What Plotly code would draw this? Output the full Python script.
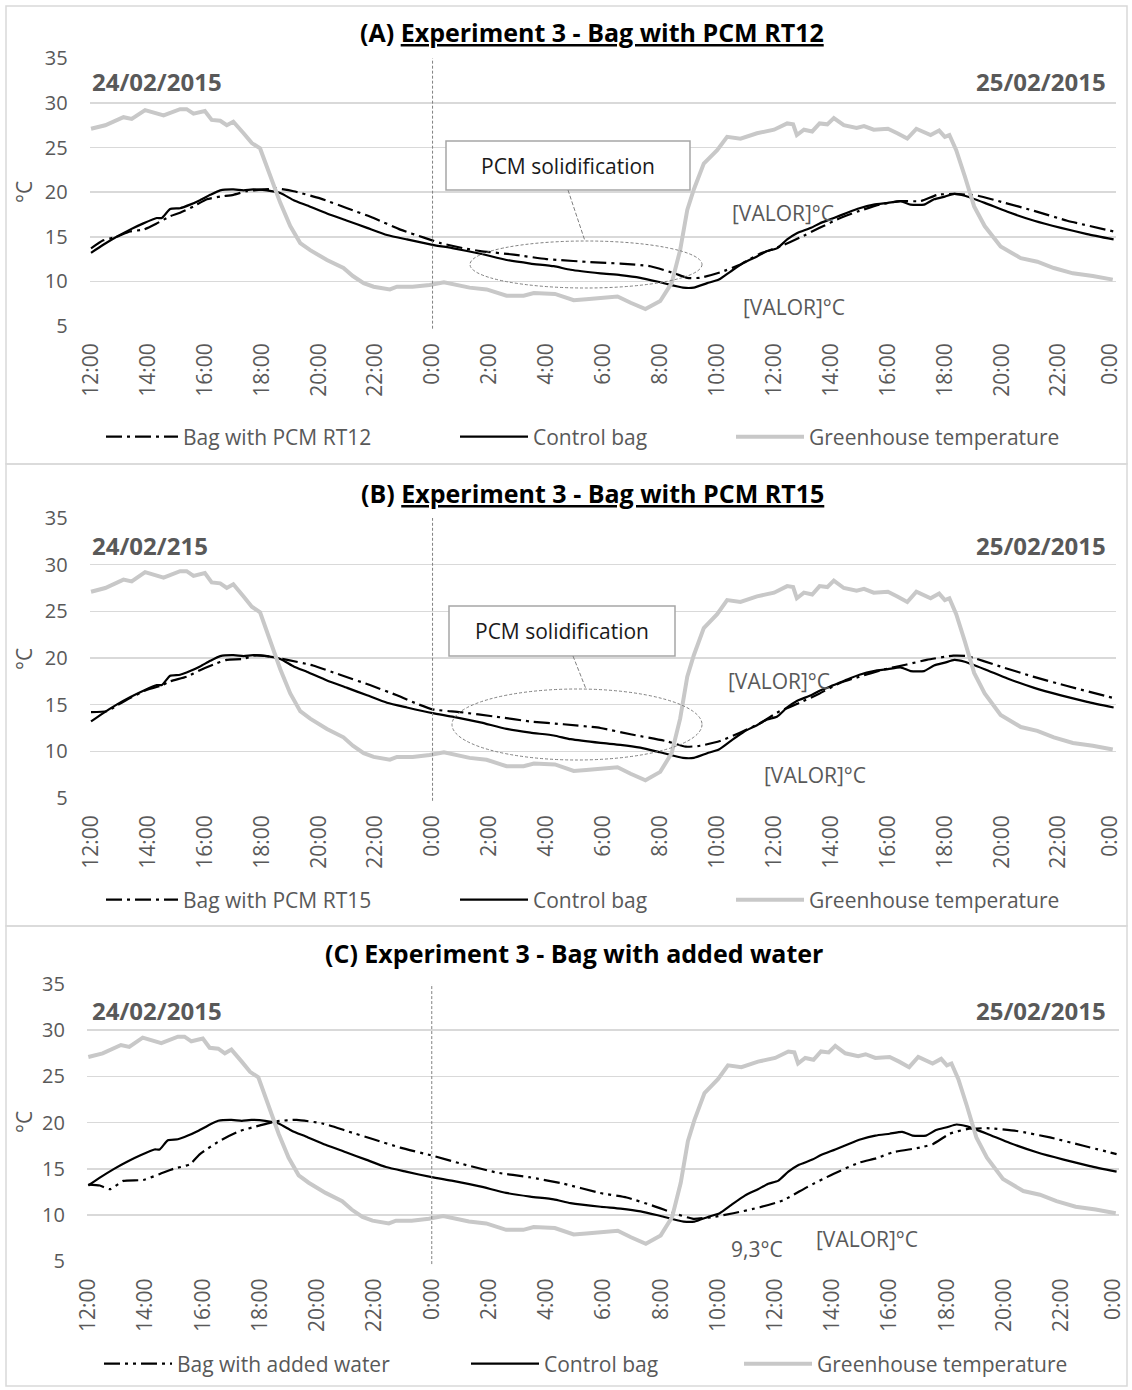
import plotly.graph_objects as go

W, H = 1132, 1390
FONT = "Open Sans"

# ---------------- data (hours counted from 12:00 on 24/02/2015) ----------------
gh_hours = [0, 0.5, 1.14, 1.43, 1.9, 2.55, 3.13, 3.36, 3.6, 4.0, 4.24, 4.54, 4.77, 5.0, 5.36,
            5.65, 5.94, 6.3, 6.65, 7.0, 7.35, 7.7, 8.29, 8.87, 9.2, 9.58, 9.93, 10.5, 10.75,
            11.3, 11.9, 12.4, 12.86, 13.3, 13.9, 14.6, 15.2, 15.56, 16.3, 16.96, 17.4, 17.9,
            18.5, 18.96, 19.48, 20.0, 20.4, 20.7, 20.95, 21.18, 21.53, 22.0, 22.35, 22.82,
            23.4, 24.0, 24.46, 24.67, 24.8, 25.05, 25.34, 25.6, 25.87, 26.1, 26.45, 26.9,
            27.16, 27.5, 28.0, 28.33, 28.68, 29.0, 29.5, 29.8, 30.0, 30.16, 30.4, 30.7,
            31.03, 31.4, 31.96, 32.67, 33.25, 33.83, 34.5, 35.2, 35.9]
gh_temp = [27.1, 27.5, 28.4, 28.2, 29.2, 28.6, 29.3, 29.3, 28.8, 29.1, 28.1, 28.0, 27.5, 27.9,
           26.6, 25.5, 24.9, 21.8, 18.8, 16.2, 14.3, 13.5, 12.4, 11.5, 10.6, 9.8, 9.4, 9.1,
           9.4, 9.4, 9.6, 9.9, 9.6, 9.3, 9.1, 8.4, 8.4, 8.7, 8.6, 7.9, 8.0, 8.1, 8.3, 7.6,
           6.9, 7.8, 9.8, 13.5, 18.0, 20.3, 23.2, 24.7, 26.2, 26.0, 26.6, 27.0, 27.7, 27.6,
           26.4, 27.0, 26.8, 27.7, 27.6, 28.3, 27.5, 27.2, 27.4, 27.0, 27.1, 26.6, 26.0,
           27.1, 26.4, 26.9, 26.2, 26.4, 24.7, 21.8, 18.4, 16.2, 13.9, 12.6, 12.2, 11.5,
           10.9, 10.6, 10.2]

ctrl_hours = [0, 0.43, 0.9, 1.37, 1.84, 2.31, 2.49, 2.78, 3.13, 3.48, 3.83, 4.19, 4.54, 5.0,
              5.36, 5.7, 6.18, 6.65, 7.12, 7.6, 8.29, 9.0, 9.7, 10.4, 11.1, 12.0, 12.74, 13.68,
              14.6, 15.44, 16.26, 16.85, 17.9, 18.6, 19.3, 20.0, 20.8, 21.18, 21.65, 22.06,
              22.47, 22.94, 23.4, 23.76, 24.1, 24.46, 24.8, 25.3, 25.6, 26.1, 26.57, 27.0,
              27.5, 28.0, 28.44, 28.8, 29.27, 29.62, 30.0, 30.33, 30.7, 31.4, 32.2, 33.14,
              34.08, 35.0, 35.93]
ctrl_temp = [13.2, 14.1, 15.0, 15.8, 16.5, 17.1, 17.1, 18.1, 18.2, 18.6, 19.1, 19.7, 20.2,
             20.3, 20.2, 20.3, 20.2, 19.9, 19.1, 18.5, 17.6, 16.8, 16.0, 15.2, 14.7, 14.1,
             13.7, 13.1, 12.4, 12.0, 11.7, 11.3, 10.9, 10.7, 10.4, 9.9, 9.3, 9.3, 9.8, 10.2,
             11.1, 12.1, 12.8, 13.4, 13.7, 14.7, 15.4, 16.0, 16.5, 17.1, 17.7, 18.2, 18.6,
             18.8, 19.0, 18.6, 18.6, 19.2, 19.5, 19.8, 19.6, 18.8, 17.8, 16.8, 16.0, 15.3,
             14.7]

rt12_hours = [0, 0.43, 0.9, 1.37, 1.84, 2.31, 2.78, 3.13, 3.6, 4.07, 4.54, 5.0, 5.47, 6.06,
              6.53, 7.12, 8.05, 9.0, 9.93, 10.87, 11.7, 12.27, 13.1, 13.68, 14.85, 16.0, 17.9,
              18.6, 19.65, 20.5, 20.95, 21.4, 22.1, 22.82, 23.5, 24.2, 24.9, 25.6, 26.33,
              27.0, 27.7, 28.44, 29.15, 29.74, 30.33, 31.16, 32.0, 33.14, 34.3, 35.93]
rt12_temp = [13.7, 14.6, 15.0, 15.6, 15.8, 16.5, 17.3, 17.7, 18.4, 19.2, 19.5, 19.7, 20.1,
             20.3, 20.4, 20.1, 19.3, 18.2, 17.1, 15.8, 14.9, 14.3, 13.7, 13.4, 13.0, 12.5,
             12.1, 12.0, 11.7, 10.9, 10.4, 10.4, 11.0, 11.9, 13.1, 13.9, 14.9, 16.0, 17.1,
             17.9, 18.6, 19.0, 19.0, 19.7, 19.8, 19.6, 18.9, 17.9, 16.8, 15.6]

rt15_hours = [0, 0.55, 0.9, 1.37, 1.97, 2.43, 2.78, 3.37, 3.83, 4.3, 4.77, 5.36, 5.7, 6.18,
              6.9, 7.8, 8.75, 9.8, 10.75, 11.45, 12.0, 12.97, 14.25, 15.44, 16.6, 17.9, 19.0,
              20.2, 20.9, 21.4, 22.1, 22.8, 23.5, 24.2, 24.9, 25.6, 26.3, 27.0, 27.83, 28.66,
              29.36, 30.3, 30.77, 31.94, 33.1, 34.3, 35.93]
rt15_temp = [14.2, 14.3, 14.9, 15.7, 16.6, 17.0, 17.5, 18.0, 18.7, 19.3, 19.8, 19.9, 20.25,
             20.2, 19.8, 19.2, 18.2, 17.1, 16.0, 15.1, 14.5, 14.2, 13.7, 13.2, 12.9, 12.5,
             11.8, 11.1, 10.5, 10.6, 11.1, 12.0, 13.0, 14.3, 15.2, 16.2, 17.3, 18.0, 18.75,
             19.3, 19.8, 20.25, 20.2, 19.1, 18.0, 17.0, 15.7]

water_hours = [0, 0.4, 0.76, 1.22, 1.92, 2.5, 2.97, 3.55, 3.9, 4.6, 5.3, 6.0, 6.58, 7.28, 8.2,
               9.03, 9.96, 10.9, 12.06, 13.1, 14.27, 15.4, 16.6, 17.87, 18.81, 19.74, 20.56,
               21.14, 21.84, 22.54, 23.47, 24.28, 25.1, 26.03, 26.96, 27.54, 28.12, 29.06,
               29.52, 30.1, 30.7, 31.4, 32.44, 33.6, 34.77, 35.93]
water_temp = [13.3, 13.2, 12.8, 13.7, 13.8, 14.45, 15.0, 15.5, 16.6, 18.05, 19.1, 19.7, 20.15,
              20.3, 19.9, 19.1, 18.2, 17.3, 16.4, 15.5, 14.6, 14.1, 13.4, 12.4, 11.9, 11.0,
              10.1, 9.6, 9.8, 10.2, 10.85, 11.6, 13.0, 14.45, 15.7, 16.15, 16.8, 17.3, 17.7,
              18.8, 19.3, 19.4, 19.1, 18.4, 17.5, 16.6]

tick_hours = [0, 2, 4, 6, 8, 10, 12, 14, 16, 18, 20, 22, 24, 26, 28, 30, 32, 34, 35.8]
tick_labels = ["12:00", "14:00", "16:00", "18:00", "20:00", "22:00", "0:00", "2:00", "4:00",
               "6:00", "8:00", "10:00", "12:00", "14:00", "16:00", "18:00", "20:00", "22:00",
               "0:00"]
y_ticks = [5, 10, 15, 20, 25, 30, 35]

panel_titles = ["<b>(A) <u>Experiment 3 - Bag with PCM RT12</u></b>",
                "<b>(B) <u>Experiment 3 - Bag with PCM RT15</u></b>",
                "<b>(C) Experiment 3 - Bag with added water</b>"]
left_dates = ["24/02/2015", "24/02/215", "24/02/2015"]
right_date = "25/02/2015"
treat_names = ["Bag with PCM RT12", "Bag with PCM RT15", "Bag with added water"]
treat_hours = [rt12_hours, rt15_hours, water_hours]
treat_temp = [rt12_temp, rt15_temp, water_temp]

# ---------------- helpers ----------------
def fx(px):
    return px / W

def fy(py):
    return 1 - py / H

GRAY_TXT = "#595959"
DASHDOT = "16px,5px,3px,5px"
DASHDOTDOT = "16px,5px,3px,5px,3px,5px"
treat_dash = [DASHDOT, DASHDOT, DASHDOTDOT]

# pixel geometry of each panel
panels = [
    dict(xd=(89.6, 1115.6), yd=(58.3, 326.0), title=(592, 32), box=(6, 6, 1127, 464),
         leg_y=437, leg_x=(106, 460, 736), leg_w=(72, 68, 68), datey=82, ctitle_y=192),
    dict(xd=(89.6, 1115.6), yd=(518.0, 798.0), title=(592, 493), box=(6, 464, 1127, 926),
         leg_y=900, leg_x=(106, 460, 736), leg_w=(72, 68, 68), datey=545, ctitle_y=659),
    dict(xd=(86.9, 1118.6), yd=(984.0, 1261.3), title=(574, 953), box=(6, 926, 1127, 1386),
         leg_y=1364, leg_x=(104, 471, 744), leg_w=(68, 68, 68), datey=1010, ctitle_y=1122),
]

fig = go.Figure()
layout = dict(width=W, height=H,
              margin=dict(l=0, r=0, t=0, b=0, pad=0, autoexpand=False), autosize=False,
              paper_bgcolor="white", plot_bgcolor="white",
              font=dict(family=FONT, color=GRAY_TXT), showlegend=True)
annotations = []
shapes = []

for i, p in enumerate(panels):
    n = i + 1
    xa = "x" if n == 1 else f"x{n}"
    ya = "y" if n == 1 else f"y{n}"
    xkey = "xaxis" if n == 1 else f"xaxis{n}"
    ykey = "yaxis" if n == 1 else f"yaxis{n}"
    lg = [f"legend{3 * i + k + 1}" if (3 * i + k) > 0 else "legend" for k in range(3)]

    fig.add_trace(go.Scatter(x=treat_hours[i], y=treat_temp[i], mode="lines",
                             name=treat_names[i], xaxis=xa, yaxis=ya, legend=lg[0],
                             line=dict(color="black", width=2.2, dash=treat_dash[i],
                                       shape="spline", smoothing=0.5),
                             hoverinfo="skip"))
    fig.add_trace(go.Scatter(x=ctrl_hours, y=ctrl_temp, mode="lines", name="Control bag",
                             xaxis=xa, yaxis=ya, legend=lg[1],
                             line=dict(color="black", width=2.2, shape="spline", smoothing=0.5),
                             hoverinfo="skip"))
    fig.add_trace(go.Scatter(x=gh_hours, y=gh_temp, mode="lines", name="Greenhouse temperature",
                             xaxis=xa, yaxis=ya, legend=lg[2],
                             line=dict(color="#c8c8c8", width=4),
                             hoverinfo="skip"))

    layout[xkey] = dict(domain=[fx(p["xd"][0]), fx(p["xd"][1])], range=[-0.05, 36.0],
                        anchor=ya, tickmode="array", tickvals=tick_hours, ticktext=tick_labels,
                        tickangle=-90, showgrid=False, zeroline=False, showline=False,
                        ticks="", ticklabelstandoff=12, automargin=False,
                        tickfont=dict(size=21, color=GRAY_TXT, family=FONT), fixedrange=True)
    layout[ykey] = dict(domain=[fy(p["yd"][1]), fy(p["yd"][0])], range=[5, 35],
                        anchor=xa, tickmode="array", tickvals=y_ticks,
                        showgrid=True, gridcolor="#d9d9d9", gridwidth=1.5, zeroline=False,
                        showline=False, ticks="", ticklabelstandoff=21, automargin=False,
                        tickfont=dict(size=20, color=GRAY_TXT, family=FONT), fixedrange=True)

    for k in range(3):
        layout[lg[k]] = dict(x=fx(p["leg_x"][k] - 5), y=fy(p["leg_y"]), xanchor="left",
                             yanchor="middle", orientation="h", itemwidth=p["leg_w"][k],
                             bgcolor="rgba(0,0,0,0)", borderwidth=0,
                             font=dict(size=21, color=GRAY_TXT, family=FONT))

    # panel frame
    bx0, by0, bx1, by1 = p["box"]
    shapes.append(dict(type="rect", xref="paper", yref="paper", x0=fx(bx0), x1=fx(bx1),
                       y0=fy(by1), y1=fy(by0), line=dict(color="#d9d9d9", width=1.5),
                       layer="below"))
    # midnight line
    shapes.append(dict(type="line", xref=xa, yref=f"{ya} domain", x0=12, x1=12, y0=-0.01, y1=1,
                       line=dict(color="#808080", width=1, dash="3px,2px")))

    # titles and texts
    annotations.append(dict(text=panel_titles[i], xref="paper", yref="paper",
                            x=fx(p["title"][0]), y=fy(p["title"][1]), xanchor="center",
                            yanchor="middle", showarrow=False,
                            font=dict(size=25, color="black", family=FONT)))
    annotations.append(dict(text=f"<b>{left_dates[i]}</b>", xref="paper", yref="paper",
                            x=fx(90), y=fy(p["datey"]), xanchor="left", yanchor="middle",
                            showarrow=False, font=dict(size=24, color=GRAY_TXT, family=FONT)))
    annotations.append(dict(text=f"<b>{right_date}</b>", xref="paper", yref="paper",
                            x=fx(1108), y=fy(p["datey"]), xanchor="right", yanchor="middle",
                            showarrow=False, font=dict(size=24, color=GRAY_TXT, family=FONT)))
    annotations.append(dict(text="°C", xref="paper", yref="paper", x=fx(24),
                            y=fy(p["ctitle_y"]), xanchor="center", yanchor="middle",
                            textangle=-90, showarrow=False,
                            font=dict(size=21, color=GRAY_TXT, family=FONT)))

# data labels
val_labels = [("[VALOR]°C", 783, 213), ("[VALOR]°C", 794, 307),
              ("[VALOR]°C", 779, 681), ("[VALOR]°C", 815, 775),
              ("9,3°C", 757, 1249), ("[VALOR]°C", 867, 1239)]
for t, x, y in val_labels:
    annotations.append(dict(text=t, xref="paper", yref="paper", x=fx(x), y=fy(y),
                            xanchor="center", yanchor="middle", showarrow=False,
                            font=dict(size=21, color=GRAY_TXT, family=FONT)))

# PCM solidification callouts (panels A and B)
callouts = [dict(box=(446, 141, 690, 190), text=(568, 166), conn=(568, 190, 585, 241),
                 ell=(470, 241, 702, 288)),
            dict(box=(449, 606, 675, 656), text=(562, 631), conn=(573, 656, 586, 689),
                 ell=(452, 689, 702, 760))]
for c in callouts:
    x0, y0, x1, y1 = c["box"]
    shapes.append(dict(type="rect", xref="paper", yref="paper", x0=fx(x0), x1=fx(x1),
                       y0=fy(y1), y1=fy(y0), line=dict(color="#a6a6a6", width=1.5),
                       fillcolor="white", layer="above"))
    cx0, cy0, cx1, cy1 = c["conn"]
    shapes.append(dict(type="line", xref="paper", yref="paper", x0=fx(cx0), x1=fx(cx1),
                       y0=fy(cy0), y1=fy(cy1),
                       line=dict(color="#808080", width=1, dash="4px,2px")))
    ex0, ey0, ex1, ey1 = c["ell"]
    shapes.append(dict(type="circle", xref="paper", yref="paper", x0=fx(ex0), x1=fx(ex1),
                       y0=fy(ey1), y1=fy(ey0),
                       line=dict(color="#808080", width=1, dash="3px,2px")))
    annotations.append(dict(text="PCM solidification", xref="paper", yref="paper",
                            x=fx(c["text"][0]), y=fy(c["text"][1]), xanchor="center",
                            yanchor="middle", showarrow=False,
                            font=dict(size=21, color="#1a1a1a", family=FONT)))

layout["annotations"] = annotations
layout["shapes"] = shapes
fig.update_layout(**layout)
# place the chart at the top-left corner of the page (remove the default body margin)
fig.write_html("out.html", config={"displayModeBar": False, "staticPlot": True},
               post_script="document.body.style.margin='0px';")
